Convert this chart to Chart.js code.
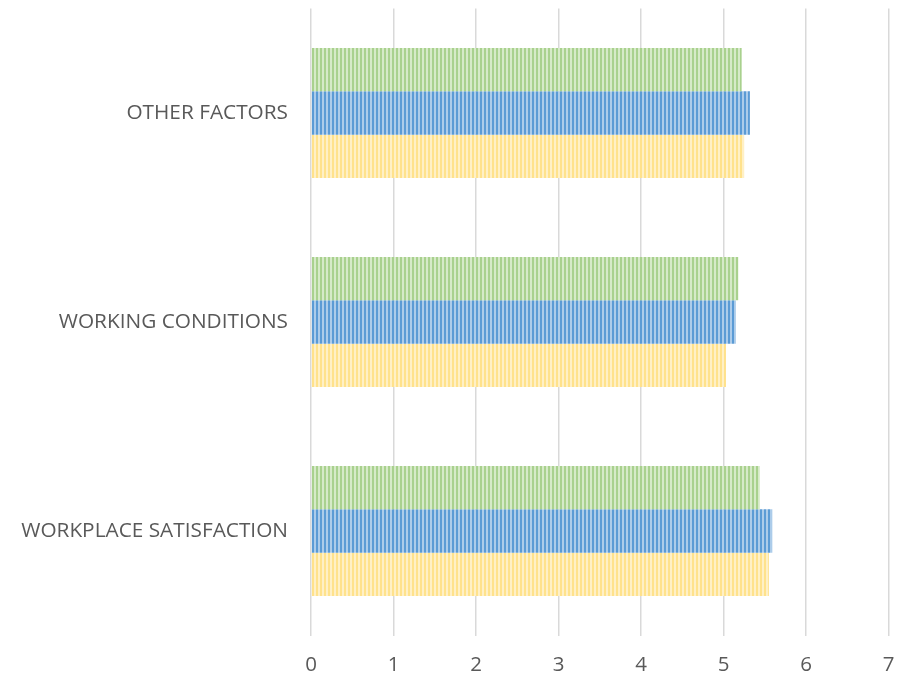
<!DOCTYPE html>
<html><head><meta charset="utf-8">
<script src="https://cdn.jsdelivr.net/npm/chart.js@4"></script>
<style>html,body{margin:0;padding:0;background:#fff;}#wrap{width:899px;height:677px;}</style>
</head><body><div id="wrap"><canvas id="c" width="899" height="677"></canvas></div>
<script>
const categories = ["OTHER FACTORS", "WORKING CONDITIONS", "WORKPLACE SATISFACTION"];
const seriesGreen = [5.22, 5.18, 5.44];
const seriesBlue = [5.32, 5.15, 5.59];
const seriesYellow = [5.25, 5.03, 5.55];
const xTicks = [0, 1, 2, 3, 4, 5, 6, 7];

function stripes(color, light) {
  const p = document.createElement('canvas');
  p.width = 4; p.height = 4;
  const g = p.getContext('2d');
  g.fillStyle = light; g.fillRect(0, 0, 4, 4);
  g.fillStyle = color; g.fillRect(0, 0, 2, 4);
  return g.createPattern(p, 'repeat');
}
const ctx = document.getElementById('c').getContext('2d');
new Chart(ctx, {
  type: 'bar',
  data: {
    labels: categories,
    datasets: [
      {label: 'Series 3', data: seriesGreen, backgroundColor: stripes('#a9d18e', '#d6eac8'), borderWidth: 0},
      {label: 'Series 2', data: seriesBlue, backgroundColor: stripes('#5b9bd5', '#acccea'), borderWidth: 0},
      {label: 'Series 1', data: seriesYellow, backgroundColor: stripes('#ffe28c', '#fff0c6'), borderWidth: 0}
    ]
  },
  options: {
    indexAxis: 'y',
    responsive: false,
    animation: false,
    devicePixelRatio: 1,
    layout: {padding: {left: 0, right: 10.5, top: 8.5, bottom: 0}},
    datasets: {bar: {categoryPercentage: 0.622, barPercentage: 1}},
    plugins: {legend: {display: false}, tooltip: {enabled: false}},
    scales: {
      x: {
        min: 0, max: 7,
        afterBuildTicks: s => { s.ticks = xTicks.map(v => ({value: v})); },
        afterFit: s => { s.height = 41.5; s.paddingLeft = 0; s.paddingRight = 0; },
        grid: {color: '#d9d9d9', lineWidth: 1.5, drawTicks: false},
        border: {display: false},
        ticks: {color: '#595959', font: {family: 'Open Sans', size: 20.5}, padding: 17}
      },
      y: {
        afterFit: s => { s.width = 311; s.paddingTop = 0; s.paddingBottom = 0; },
        grid: {display: false, drawTicks: false},
        border: {display: false},
        ticks: {color: '#595959', font: {family: 'Open Sans', size: 20.8}, padding: 23}
      }
    }
  }
});
</script></body></html>
